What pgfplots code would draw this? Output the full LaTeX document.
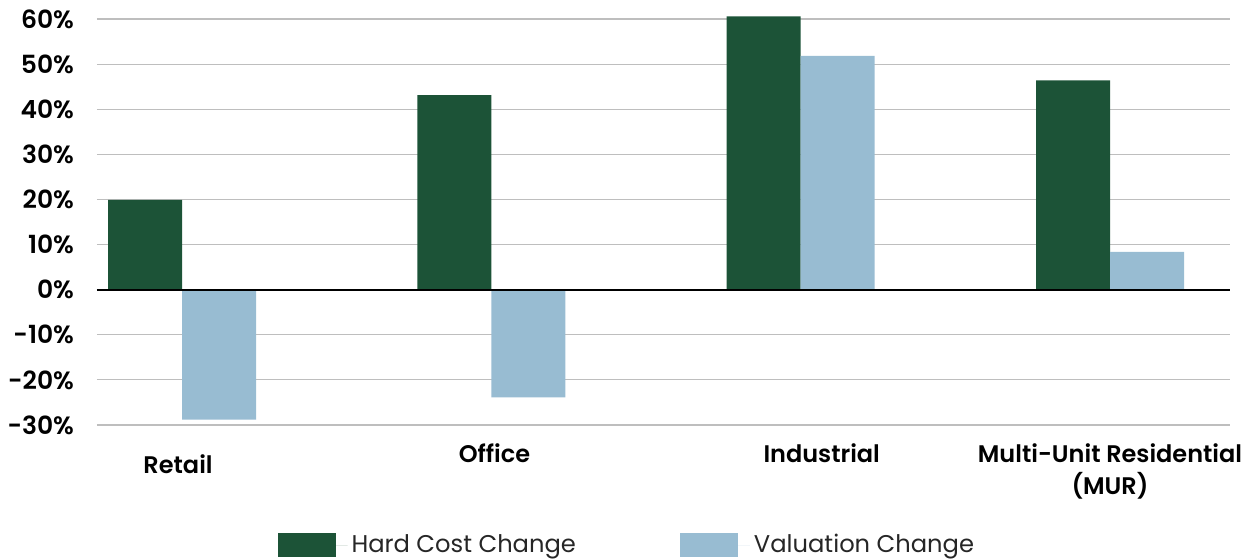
\documentclass[border=0pt]{standalone}
\usepackage{fontspec}
\setmainfont{Poppins}
\newfontfamily\medfont{Poppins SemiBold}
\usepackage{pgfplots}
\pgfplotsset{compat=1.18}
\definecolor{hardcost}{HTML}{1C5337}
\definecolor{valuation}{HTML}{98BCD2}
\definecolor{gridgray}{HTML}{BEBEBE}
\definecolor{legtext}{HTML}{262626}
\begin{document}
\begin{tikzpicture}
\begin{axis}[
  scale only axis,
  width=566.5pt, height=203pt,
  xmin=-0.275, xmax=3.388,
  ymin=-30, ymax=60,
  ytick={-30,-20,...,60},
  xtick={1.01,2.068,3},
  xticklabels={Office,Industrial,{Multi-Unit Residential\\(MUR)}},
  xticklabel style={align=center, font=\medfont\fontsize{12pt}{16pt}\selectfont, yshift=-6pt},
  yticklabel={\pgfmathprintnumber{\tick}\%},
  yticklabel style={font=\medfont\fontsize{12.5pt}{15pt}\selectfont, xshift=-8pt},
  /pgf/number format/assume math mode=true,
  major tick length=0pt,
  axis line style={draw=none},
  ymajorgrids, grid style={gridgray, line width=0.6pt},
  clip=false,
  ybar=0pt, bar width=37pt,
  legend columns=2,
  legend style={at={(0.4685,-0.2956)}, anchor=center, draw=none,
    font=\fontsize{12.1pt}{16pt}\selectfont, text=legtext,
    /tikz/every even column/.append style={column sep=50pt}},
  legend image code/.code={\fill[#1] (0pt,-6pt) rectangle (29pt,6pt); \path (29pt,0pt) -- (35pt,0pt);},
  legend cell align=left,
]
\addplot[fill=hardcost, draw=none] coordinates {(0,19.9) (1,43.1) (2,60.6) (3,46.4)};
\addplot[fill=valuation, draw=none] coordinates {(0,-28.8) (1,-23.9) (2,51.8) (3,8.4)};
\legend{Hard Cost Change, Valuation Change}
\draw[black, line width=1pt] (axis cs:-0.275,0) -- (axis cs:3.388,0);
\node[anchor=north, font=\medfont\fontsize{12pt}{16pt}\selectfont, inner sep=3.33pt]
  at ([yshift=-11.5pt]axis cs:-0.013,-30) {Retail};
\end{axis}
\pgfresetboundingbox
\path (-48.5pt,-67.5pt) rectangle (576pt,212.5pt);
\end{tikzpicture}
\end{document}
